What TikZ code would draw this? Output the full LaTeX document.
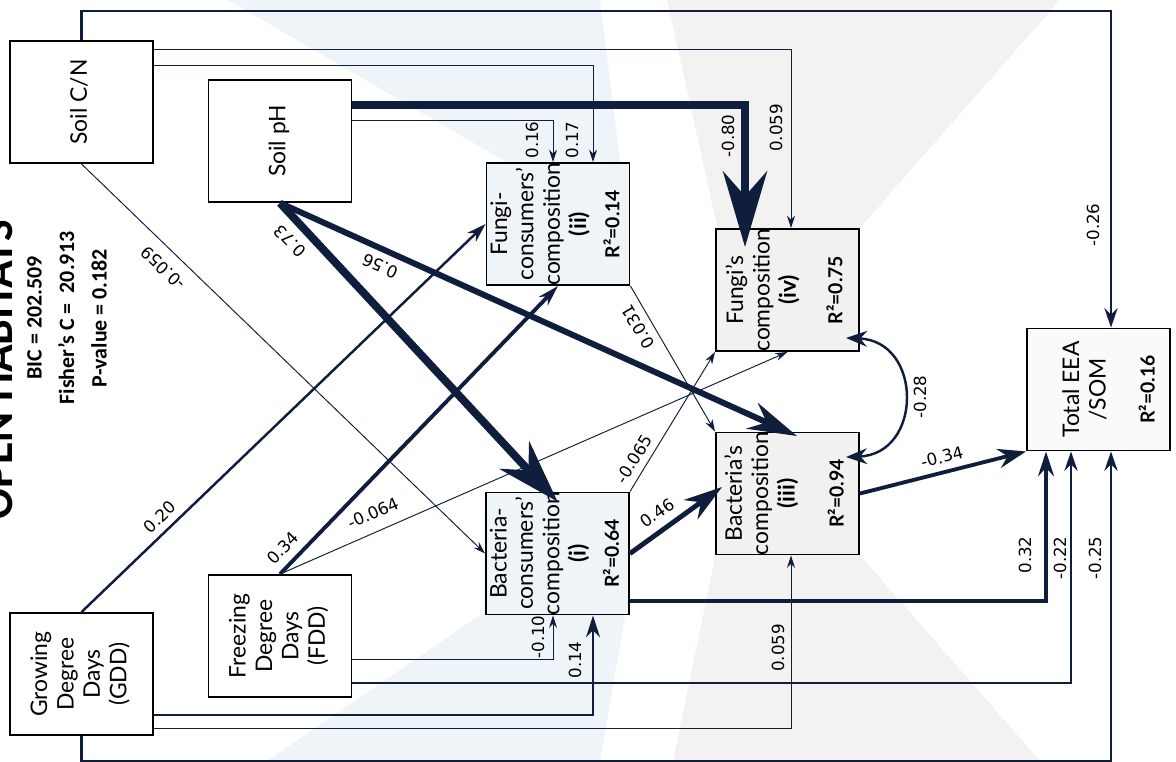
\documentclass[tikz,border=0pt]{standalone}
\usepackage{fontspec}
\setmainfont{Lato}
\newfontfamily\numfont{DejaVu Sans}
\newfontfamily\statfont{Carlito}
\usetikzlibrary{arrows.meta}
\definecolor{PathNavy}{HTML}{0F1E3C}
\definecolor{LogoBlue}{HTML}{EEF4F7}
\definecolor{LogoSand}{HTML}{F3F2F0}
\definecolor{ConsFill}{HTML}{EFF4F8}
\definecolor{CompFill}{HTML}{F2F1EF}
\definecolor{TotFill}{HTML}{FAFAFA}
\newcommand{\vtext}[1]{\rotatebox{90}{\makebox[0pt]{\begin{tabular}{@{}c@{}}#1\end{tabular}}}}
\newcommand{\rsq}[1]{\textbf{\fontsize{11}{13}\selectfont R²=#1}}
\tikzset{
  box/.style={draw=black, line width=1.1pt, minimum width=2.86cm, minimum height=2.44cm, inner sep=0pt, font=\fontsize{13}{15}\selectfont},
  coef/.style={font=\numfont\fontsize{9.5}{11}\selectfont, inner sep=1pt},
  link/.style n args={3}{draw=PathNavy, line width=#1, -{Stealth[length=#2, width=#3]}},
}

\begin{document}
\begin{tikzpicture}[x=0.02cm, y=-0.02cm]
            \useasboundingbox (0,0) rectangle (1176,761);
            \fill[LogoBlue] (228,0) -- (600,0) -- (625,200) -- (572,200) -- cycle;
            \fill[LogoSand] (667,0) -- (1060,0) -- (858,230) -- (718,230) -- cycle;
            \fill[LogoBlue] (267,761) -- (600,761) -- (628,600) -- (502,600) -- cycle;
            \fill[LogoSand] (673,761) -- (1040,761) -- (858,553) -- (716,553) -- cycle;

            \node[rotate=90, anchor=base, font=\statfont\bfseries\fontsize{26}{30}\selectfont] (title) at (12,370) {OPEN HABITATS};
            \node[rotate=90, align=center, font=\statfont\bfseries\fontsize{12.5}{15}\selectfont] (fit) at (67,318) {BIC = 202.509\\[3.5pt]Fisher’s C =\ \ 20.913\\[3.5pt]P-value = 0.182};

            \node[box] (cn) at (81.5,102) {\vtext{Soil C/N}};
            \node[box] (ph) at (280,141) {\vtext{Soil pH}};
            \node[box, fill=ConsFill] (fc) at (558,224) {\vtext{Fungi-\\consumers’\\composition\\\textbf{(ii)}\\[4pt]\rsq{0.14}}};
            \node[box, fill=CompFill] (fu) at (787.5,290) {\vtext{Fungi’s\\composition\\\textbf{(iv)}\\[11.5pt]\rsq{0.75}}};
            \node[box, fill=ConsFill] (bc) at (557.5,553.5) {\vtext{Bacteria-\\consumers’\\composition\\\textbf{(i)}\\[4pt]\rsq{0.64}}};
            \node[box, fill=CompFill] (ba) at (787.5,493.5) {\vtext{Bacteria’s\\composition\\\textbf{(iii)}\\[13pt]\rsq{0.94}}};
            \node[box, fill=TotFill] (ee) at (1098.5,389.5) {\vtext{\\Total EEA\\/SOM\\[13pt]\rsq{0.16}}};
            \node[box] (fd) at (280,636) {\vtext{Freezing\\Degree\\Days\\(FDD)}};
            \node[box] (gd) at (81.5,674) {\vtext{Growing\\Degree\\Days\\(GDD)}};

            \draw[link={1.2pt}{11pt}{7.5pt}] (cn.north) -- (cn.north |- 0,11) -| ([xshift=0.25cm]ee.north);
            \draw[link={1.2pt}{11pt}{7.5pt}] (gd.south) -- (gd.south |- 0,761) -| ([xshift=0.25cm]ee.south);
            \draw[link={0.55pt}{7pt}{4.5pt}] (cn.east |- 0,49) -| (fu.north -| 791,0);
            \draw[link={0.55pt}{7pt}{4.5pt}] (cn.east |- 0,65) -| (fc.north -| 593,0);
            \draw[link={5pt}{43pt}{25pt}, shorten >=-0.38cm] (ph.east |- 0,105) -| (fu.north -| 745,0);
            \draw[link={0.55pt}{7pt}{4.5pt}] (ph.east |- 0,120) -| (fc.north -| 553,0);
            \draw[link={4.5pt}{36pt}{23pt}] (ph.south) -- ([yshift=-0.2cm]bc.north);
            \draw[link={3.4pt}{28pt}{16pt}] (ph.south) -- ([xshift=0.19cm, yshift=-0.09cm]ba.north);
            \draw[link={0.55pt}{7pt}{4.5pt}] (cn.south) -- (bc.west);
            \draw[link={0.55pt}{7pt}{4.5pt}] (fc.south east) -- (ba.north west);
            \draw[link={0.55pt}{7pt}{4.5pt}] (bc.north east) -- (fu.south west);
            \draw[link={0.55pt}{7pt}{4.5pt}] (fd.north) -- (fu.south);
            \draw[link={2.2pt}{12pt}{7pt}] (fd.north) -- (fc.south);
            \draw[link={1.4pt}{11pt}{7pt}] (gd.north) -- (fc.west);
            \draw[link={0.55pt}{7pt}{4.5pt}] (fd.east |- 0,659) -| (bc.south -| 553,0);
            \draw[link={1.2pt}{12.5pt}{8pt}] (gd.east |- 0,715) -| (bc.south -| 593,0);
            \draw[link={1.2pt}{11pt}{7.5pt}] (fd.east |- 0,683) -| (ee.south -| 1071,0);
            \draw[link={0.55pt}{7pt}{4.5pt}] (gd.east |- 0,728) -| (ba.south -| 791,0);
            \draw[link={2.2pt}{14pt}{9pt}] (bc.east |- 0,601) -| (ee.south -| 1046,0);
            \draw[link={2.8pt}{22pt}{13.5pt}] (bc.east) -- ([xshift=0.14cm, yshift=0.13cm]ba.west);
            \draw[link={2.2pt}{16pt}{11pt}] (ba.east) -- (ee.south west);
            \draw[draw=PathNavy, line width=1.4pt, {Stealth[length=12pt, width=9pt]}-{Stealth[length=12pt, width=9pt]}] ([xshift=-0.28cm, yshift=0.28cm]fu.south east) .. controls +(77,3) and +(77,-3) .. ([xshift=-0.28cm, yshift=-0.51cm]ba.north east);

            \node[coef, rotate=90] (w-cnee) at (1093,225) {-0.26};
            \node[coef, rotate=90] (w-gdee) at (1095,558) {-0.25};
            \node[coef, rotate=90] (w-cnfu) at (776,128) {0.059};
            \node[coef, rotate=90] (w-cnfc) at (572,140) {0.17};
            \node[coef, rotate=90] (w-phfu) at (728,136) {-0.80};
            \node[coef, rotate=90] (w-phfc) at (532,140) {0.16};
            \node[coef, rotate=133.7] (w-phbc) at (290,241) {0.73};
            \node[coef, rotate=155.6] (w-phba) at (380,266) {0.56};
            \node[coef, rotate=136] (w-cnbc) at (163,268) {-0.059};
            \node[coef, rotate=120.4] (w-fcba) at (638,327) {0.031};
            \node[coef, rotate=58.4] (w-bcfu) at (634,459) {-0.065};
            \node[coef, rotate=23.8] (w-fdfu) at (373,513) {-0.064};
            \node[coef, rotate=46.2] (w-fdfc) at (283,548) {0.34};
            \node[coef, rotate=43.8] (w-gdfc) at (160,517) {0.20};
            \node[coef, rotate=90] (w-fdbc) at (538,637) {-0.10};
            \node[coef, rotate=90] (w-gdbc) at (575,660) {0.14};
            \node[coef, rotate=90] (w-fdee) at (1060,558) {-0.22};
            \node[coef, rotate=90] (w-gdba) at (778,648) {0.059};
            \node[coef, rotate=90] (w-bcee) at (1025,555) {0.32};
            \node[coef, rotate=34.6] (w-bcba) at (657,513) {0.46};
            \node[coef, rotate=14.4] (w-baee) at (942,457) {-0.34};
            \node[coef, rotate=90] (w-fuba) at (920,397) {-0.28};
        \end{tikzpicture}
\end{document}
